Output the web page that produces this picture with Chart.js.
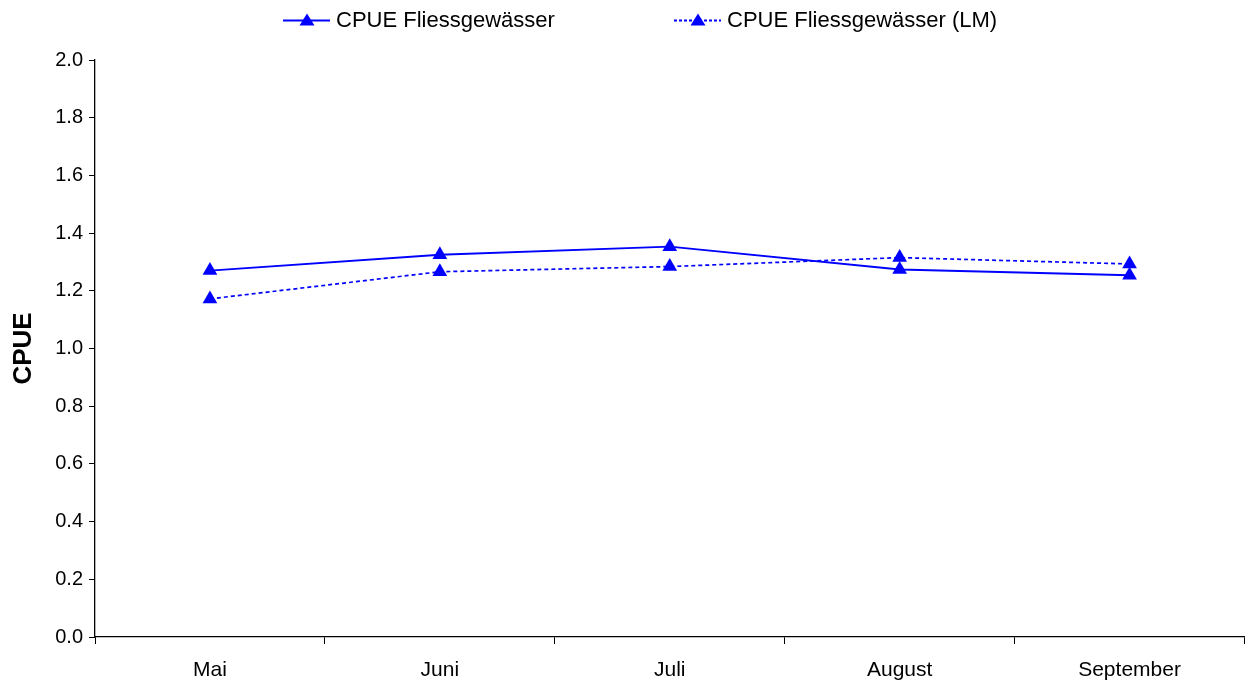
<!DOCTYPE html>
<html>
<head>
<meta charset="utf-8">
<script src="https://cdn.jsdelivr.net/npm/chart.js@4/dist/chart.umd.min.js"></script>
<style>
html,body{margin:0;padding:0;background:#fff;overflow:hidden;}
#wrap{position:relative;width:1249px;height:686px;overflow:hidden;}
#legend{position:absolute;top:5px;left:0;width:1249px;height:30px;font-family:"Liberation Sans",Arial,sans-serif;font-size:22px;color:#000;}
.item{position:absolute;top:0;display:flex;align-items:center;height:30px;white-space:nowrap;}
.item svg{margin-right:6px;}
canvas{position:absolute;left:0;top:0;}
</style>
</head>
<body>
<div id="wrap">
<canvas id="c" width="1253" height="686"></canvas>
<div id="legend"></div>
</div>
<script>
const categories = ["Mai", "Juni", "Juli", "August", "September"];
const seriesNames = ["CPUE Fliessgewässer", "CPUE Fliessgewässer (LM)"];
const cpue = [1.27, 1.325, 1.353, 1.274, 1.254];
const cpueLM = [1.172, 1.266, 1.284, 1.315, 1.293];
const yTicks = [0.0, 0.2, 0.4, 0.6, 0.8, 1.0, 1.2, 1.4, 1.6, 1.8, 2.0];
const yTitle = "CPUE";

const FONT = "'Liberation Sans', Arial, sans-serif";
const BLUE = "#0000FF";

const legendEl = document.getElementById('legend');
const legendDefs = [
  {name: seriesNames[0], dash: "", left: 283},
  {name: seriesNames[1], dash: "3,2", left: 674}
];
legendDefs.forEach(d => {
  const div = document.createElement('div');
  div.className = 'item';
  div.style.left = d.left + 'px';
  div.innerHTML = '<svg width="47" height="16" viewBox="0 0 47 16"><line x1="0" y1="8.5" x2="47" y2="8.5" stroke="' + BLUE + '" stroke-width="1.8" ' + (d.dash ? 'stroke-dasharray="3,2"' : '') + '/><polygon points="24,1.5 31.5,13.5 16.5,13.5" fill="' + BLUE + '"/></svg><span></span>';
  div.querySelector('span').textContent = d.name;
  legendEl.appendChild(div);
});

new Chart(document.getElementById('c'), {
  type: 'line',
  data: {
    labels: categories,
    datasets: [
      {label: seriesNames[0], data: cpue, borderColor: BLUE, backgroundColor: BLUE, borderWidth: 1.9,
       pointStyle: 'triangle', pointRadius: 8.5, pointHoverRadius: 8.5, pointBorderWidth: 0, tension: 0, fill: false},
      {label: seriesNames[1], data: cpueLM, borderColor: BLUE, backgroundColor: BLUE, borderWidth: 1.7, borderDash: [4, 3],
       pointStyle: 'triangle', pointRadius: 8.5, pointHoverRadius: 8.5, pointBorderWidth: 0, tension: 0, fill: false}
    ]
  },
  options: {
    responsive: false,
    animation: false,
    layout: {padding: {top: 60, right: 0, bottom: 0, left: 0}},
    plugins: {legend: {display: false}, tooltip: {enabled: false}},
    scales: {
      x: {
        offset: true,
        grid: {offset: true, drawOnChartArea: false, tickLength: 7, color: '#000', tickColor: '#000'},
        border: {color: '#000', width: 1.3},
        ticks: {color: '#000', font: {family: FONT, size: 21}, padding: 14, maxRotation: 0},
        afterFit: s => { s.height = 49; }
      },
      y: {
        min: 0, max: 2,
        afterBuildTicks: s => { s.ticks = yTicks.map(v => ({value: v})); },
        grid: {drawOnChartArea: false, tickLength: 6, color: '#000', tickColor: '#000'},
        border: {color: '#000', width: 1.3},
        ticks: {color: '#000', font: {family: FONT, size: 20}, padding: 6, callback: v => Number(v).toFixed(1)},
        title: {display: true, text: yTitle, color: '#000', font: {family: FONT, size: 26, weight: 'bold'}, padding: {top: 8, bottom: 0}},
        afterFit: s => { s.width = 95; }
      }
    }
  }
});
</script>
</body>
</html>
